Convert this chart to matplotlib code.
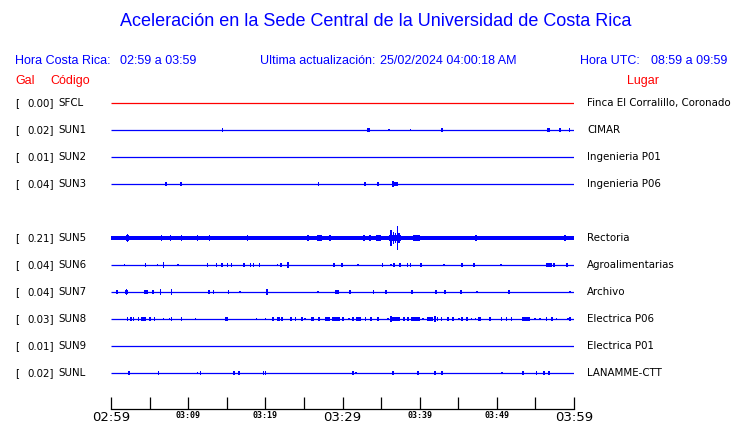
import matplotlib
matplotlib.use("Agg")
import matplotlib.pyplot as plt

# estaciones, valores en gal y lugar
codes = ["SFCL", "SUN1", "SUN2", "SUN3", "SUN5", "SUN6", "SUN7", "SUN8", "SUN9", "SUNL"]
gal = [0.00, 0.02, 0.01, 0.04, 0.21, 0.04, 0.04, 0.03, 0.01, 0.02]
places = ["Finca El Corralillo, Coronado", "CIMAR", "Ingenieria P01", "Ingenieria P06",
          "Rectoria", "Agroalimentarias", "Archivo", "Electrica P06", "Electrica P01", "LANAMME-CTT"]
tick_minutes = list(range(0, 61, 5))
tick_labels = ["02:59", "", "03:09", "", "03:19", "", "03:29", "", "03:39", "", "03:49", "", "03:59"]

# ruido de fondo de cada traza (media amplitud)
noise = [0.0, 0.0, 0.0, 0.0, 2.0, 0.0, 0.0, 0.0, 0.0, 0.0]

# eventos: (minuto inicio, minuto fin, media amplitud)
sfcl_events = []
sun1_events = [(14.42, 14.42, 1.3), (33.25, 33.25, 1.3), (33.45, 33.45, 1.3), (36.05, 36.05, 1.0),
               (38.8, 38.8, 1.0), (42.9, 42.9, 1.3), (56.5, 56.9, 1.5), (58.2, 58.2, 1.2),
               (59.4, 59.4, 1.3)]
sun2_events = []
sun3_events = [(7.0, 7.25, 1.5), (9.0, 9.15, 1.5), (26.9, 26.9, 1.3), (32.8, 32.95, 1.5),
               (34.6, 34.6, 1.3), (36.35, 37.2, 1.7), (36.45, 36.55, 2.3)]
sun5_events = [(2.0, 2.3, 2.0), (2.15, 2.15, 3.1), (6.56, 6.56, 2.3), (7.72, 7.72, 2.0),
               (9.06, 9.2, 2.3), (11.18, 11.18, 2.0), (12.74, 12.74, 2.0), (17.66, 17.66, 2.3),
               (25.56, 25.56, 2.0), (26.75, 27.3, 2.0), (26.95, 26.95, 2.4), (28.41, 28.41, 2.0),
               (32.7, 32.9, 2.0), (33.55, 33.55, 2.0), (34.4, 34.97, 2.1), (34.6, 34.6, 2.4),
               (36.05, 37.55, 2.1), (36.3, 36.3, 6.2), (36.6, 36.6, 4.6), (36.85, 36.85, 3.8),
               (37.1, 37.1, 9.2), (37.3, 37.3, 3.8), (39.2, 40.0, 2.1), (39.6, 39.6, 2.3),
               (47.2, 47.45, 2.1), (47.3, 47.3, 2.3), (57.0, 57.2, 1.7), (58.8, 58.8, 2.3)]
sun6_events = [(1.73, 1.73, 1.0), (4.45, 4.45, 1.2), (6.0, 6.0, 1.0), (6.82, 6.82, 2.3),
               (8.55, 8.7, 1.0), (12.48, 12.48, 1.2), (13.6, 13.8, 1.3), (14.3, 14.45, 1.3),
               (15.07, 15.07, 1.2), (15.59, 15.59, 1.2), (17.27, 17.27, 1.2), (18.0, 18.12, 1.3),
               (18.48, 18.48, 1.2), (19.26, 19.26, 1.2), (21.59, 21.59, 1.0), (22.06, 22.06, 1.2),
               (22.93, 22.93, 2.3), (28.93, 28.93, 1.2), (29.8, 29.95, 1.3), (32.04, 32.04, 1.0),
               (35.1, 35.25, 1.3), (36.27, 36.27, 1.0), (36.55, 36.7, 1.3), (37.48, 37.48, 1.2),
               (38.43, 38.43, 1.2), (38.82, 38.82, 1.3), (40.16, 40.16, 1.3), (43.18, 43.18, 0.8),
               (45.4, 45.6, 1.3), (47.06, 47.06, 1.2), (50.52, 50.52, 0.8), (56.4, 57.1, 1.5),
               (57.42, 57.42, 1.2), (59.11, 59.11, 1.2)]
sun7_events = [(0.6, 0.85, 1.5), (1.8, 2.25, 1.8), (2.0, 2.0, 2.3), (4.3, 4.85, 1.5),
               (5.25, 5.6, 1.5), (6.39, 6.39, 2.3), (7.86, 7.86, 2.0), (12.6, 12.75, 1.3),
               (13.3, 13.3, 1.3), (15.1, 15.25, 1.3), (16.75, 16.75, 1.0), (20.1, 20.4, 1.5),
               (20.25, 20.25, 2.0), (26.86, 26.86, 0.8), (29.0, 29.6, 1.5), (30.9, 31.05, 1.3),
               (34.03, 34.03, 1.2), (35.62, 35.62, 1.2), (38.9, 39.1, 1.5), (42.1, 42.1, 1.2),
               (43.2, 43.35, 1.5), (45.34, 45.34, 1.2), (47.45, 47.45, 1.0), (51.55, 51.55, 1.2),
               (59.5, 59.5, 0.8)]
sun8_events = [(2.16, 2.16, 1.2), (2.59, 2.59, 1.2), (2.94, 2.94, 1.2), (3.58, 3.58, 1.2),
               (3.89, 4.49, 1.5), (5.05, 5.05, 1.2), (5.61, 5.61, 1.2), (6.78, 6.78, 0.8),
               (7.56, 7.56, 1.0), (7.86, 7.86, 1.2), (9.15, 9.15, 1.2), (10.97, 10.97, 0.8),
               (14.77, 15.11, 1.3), (18.87, 18.87, 0.8), (20.04, 20.04, 1.0), (20.9, 21.05, 1.3),
               (21.55, 21.89, 1.3), (22.19, 22.19, 1.2), (23.25, 23.4, 1.3), (23.88, 23.88, 1.2),
               (24.78, 24.78, 1.2), (25.13, 25.13, 1.0), (25.91, 26.34, 1.3), (26.77, 27.07, 1.3),
               (27.72, 28.37, 1.5), (28.58, 29.66, 1.5), (30.05, 30.05, 1.2), (30.87, 30.87, 1.0),
               (31.17, 31.43, 1.3), (31.69, 32.38, 1.5), (32.9, 33.0, 1.3), (33.6, 33.75, 1.3),
               (34.5, 34.65, 1.3), (35.92, 35.92, 1.0), (36.18, 37.39, 1.7), (36.3, 36.3, 2.0),
               (37.87, 37.95, 1.3), (38.3, 38.6, 1.3), (38.86, 40.03, 1.5), (40.46, 40.46, 1.0),
               (40.89, 41.75, 1.5), (41.9, 42.1, 2.5), (42.31, 42.31, 1.2), (42.83, 42.83, 1.2),
               (43.7, 43.7, 1.2), (44.13, 44.39, 1.3), (45.12, 45.12, 0.8), (45.51, 45.51, 1.2),
               (46.0, 46.2, 1.3), (46.72, 46.72, 0.8), (47.24, 47.24, 1.0), (47.5, 48.01, 1.3),
               (49.0, 49.2, 1.3), (50.5, 50.7, 1.3), (51.25, 51.25, 1.2), (51.9, 51.9, 1.2),
               (53.2, 54.27, 1.3), (54.92, 54.92, 1.0), (55.57, 55.57, 0.8), (56.35, 56.5, 1.2),
               (57.08, 57.34, 1.2), (57.73, 57.73, 1.0), (59.24, 59.24, 0.8), (59.5, 59.5, 1.2)]
sun9_events = []
sunl_events = [(2.25, 2.4, 1.5), (6.13, 6.13, 1.2), (11.23, 11.23, 1.0), (11.5, 11.7, 1.5),
               (15.85, 15.95, 1.3), (16.62, 16.62, 1.2), (19.78, 19.78, 1.2), (19.95, 20.15, 1.5),
               (31.39, 31.39, 1.2), (31.74, 31.74, 1.0), (36.45, 36.55, 1.3), (39.65, 39.8, 1.5),
               (42.01, 42.01, 1.2), (42.92, 42.92, 1.2), (50.69, 50.69, 1.0), (53.41, 53.41, 1.2),
               (55.14, 55.14, 1.2), (56.13, 56.13, 1.2), (56.78, 56.78, 1.2)]

events = [sfcl_events, sun1_events, sun2_events, sun3_events, sun5_events,
          sun6_events, sun7_events, sun8_events, sun9_events, sunl_events]

W, H = 740, 423
BLUE = "#0000ff"
RED = "#ff0000"

fig = plt.figure(figsize=(W / 100, H / 100), dpi=100)

# ejes: 02:59 en x=111 px, 03:59 en x=574 px, eje inferior en y=409 px
ax_top, ax_bot = 90, 409
ax = fig.add_axes([111 / W, 1 - ax_bot / H, (574 - 111) / W, (ax_bot - ax_top) / H])
px = 1 / 27.0  # separacion entre trazas = 27 px
gain = 1.3
slots = [0, 1, 2, 3, 5, 6, 7, 8, 9, 10]  # SUN4 no aparece
ax.set_xlim(0, 60)
ax.set_ylim(-10 - 36 * px, 13 * px)

for i, code in enumerate(codes):
    y = -slots[i]
    c = RED if code == "SFCL" else BLUE
    ax.hlines(y, 0, 60, color=c, lw=0.9)
    if noise[i] > 0:
        ax.fill_between([0, 60], y - noise[i] * px, y + noise[i] * px, color=c, lw=0,
                        antialiased=False)
    for (t0, t1, a) in events[i]:
        w = max(t1 - t0, 0.2)
        a = a * gain
        ax.bar(t0 - (0.1 if t1 == t0 else 0), 2 * a * px, width=w, bottom=y - a * px,
               align="edge", color=c, lw=0, antialiased=False)

    yfig = 1 - (103 + 27 * slots[i]) / H
    fig.text(15 / W, yfig, "[", fontsize=7.4, va="center", ha="left")
    fig.text(54 / W, yfig, "%.2f]" % gal[i], fontsize=7.4, va="center", ha="right")
    fig.text(58 / W, yfig, code, fontsize=7.4, va="center", ha="left")
    fig.text(587 / W, yfig, places[i], fontsize=7.4, va="center", ha="left")

for s in ["top", "left", "right"]:
    ax.spines[s].set_visible(False)
ax.spines["bottom"].set_linewidth(0.9)
ax.set_yticks([])
ax.set_xticks(tick_minutes)
ax.set_xticklabels(tick_labels)
ax.tick_params(axis="x", direction="in", length=9, width=0.9, pad=1.5)
for t, lab in zip(tick_minutes, ax.get_xticklabels()):
    if t % 30 == 0:
        lab.set_fontsize(9.5)
        lab.set_family("DejaVu Sans")
    else:
        lab.set_fontsize(6)
        lab.set_family("DejaVu Sans Mono")
        lab.set_fontweight("bold")

hdr = dict(family="Liberation Sans", va="center", ha="left")
fig.text(376 / W, 1 - 22 / H, "Aceleración en la Sede Central de la Universidad de Costa Rica",
         family="Liberation Sans", fontsize=13, color=BLUE, ha="center", va="center")
y1 = 1 - 61 / H
fig.text(15 / W, y1, "Hora Costa Rica:", fontsize=9, color=BLUE, **hdr)
fig.text(120 / W, y1, "02:59 a 03:59", fontsize=9, color=BLUE, **hdr)
fig.text(260 / W, y1, "Ultima actualización:", fontsize=9, color=BLUE, **hdr)
fig.text(380 / W, y1, "25/02/2024 04:00:18 AM", fontsize=9, color=BLUE, **hdr)
fig.text(580 / W, y1, "Hora UTC:", fontsize=9, color=BLUE, **hdr)
fig.text(651 / W, y1, "08:59 a 09:59", fontsize=9, color=BLUE, **hdr)
y2 = 1 - 81 / H
fig.text(15 / W, y2, "Gal", fontsize=9, color=RED, **hdr)
fig.text(50 / W, y2, "Código", fontsize=9, color=RED, **hdr)
fig.text(627 / W, y2, "Lugar", fontsize=9, color=RED, **hdr)

fig.savefig("out.png", dpi=100)
